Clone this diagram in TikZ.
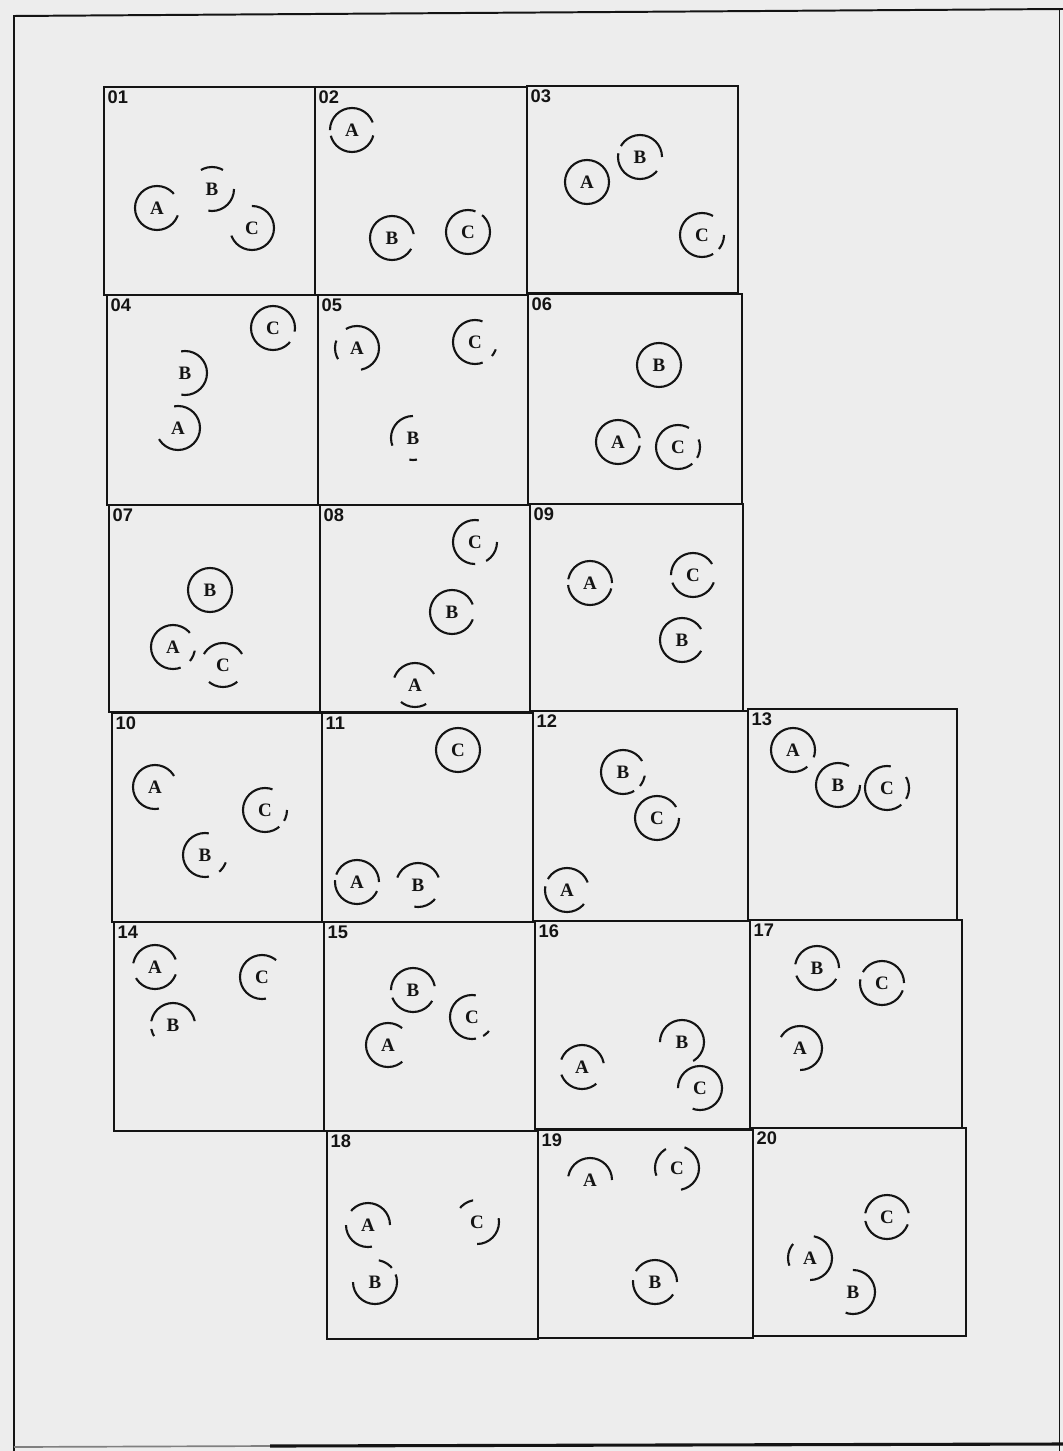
\documentclass[tikz,border=0pt]{standalone}
\usepackage{fontspec}
\setmainfont{Liberation Serif}
\setsansfont{Liberation Sans}
\usepackage{tikz}
\usetikzlibrary{positioning}
\definecolor{paper}{HTML}{EDEDED}
\definecolor{ink}{HTML}{141414}

\tikzset{
  % arcs={start angle}{on}{off}{on} in degrees, rest of the round is off
  arcs/.code n args={4}{%
    \pgfmathsetmacro\onA{#2*0.27314}%
    \pgfmathsetmacro\offA{#3*0.27314}%
    \pgfmathsetmacro\onB{#4*0.27314}%
    \pgfmathsetmacro\offB{max(360-#2-#3-#4,0.5)*0.27314}%
    \pgfmathsetmacro\phs{mod(720-#1,360)*0.27314}%
    \tikzset{draw=ink, dash pattern=on \onA pt off \offA pt on \onB pt off \offB pt, dash phase=\phs pt}},
}

\begin{document}
\begin{tikzpicture}[
  x=0.025cm, y=-0.025cm,
  ring/.style={circle, minimum size=1.1cm, inner sep=0pt, line width=1.5pt,
               text=ink, font=\bfseries\fontsize{13.5}{13.5}\selectfont},
  full/.style={draw=ink},
  cellbox/.style={draw=ink, line width=1.6pt},
  numlbl/.style={anchor=north west, inner sep=1pt, text=ink,
                 font=\sffamily\bfseries\fontsize{13}{13}\selectfont},
  frame/.style={draw=ink, line width=1.4pt}
]
\useasboundingbox (0,0) rectangle (1063,1451);
\fill[paper] (0,0) rectangle (1063,1451);

% page frame
\draw[frame] (14,1451) -- (14,16) -- (1063,9);
\draw[ink, line width=0.6pt] (1059,10) -- (1059,1451);
\draw[gray, line width=1.2pt] (14,1447) -- (270,1446);
\draw[ink, line width=2.2pt] (270,1446) -- (1063,1444);

% cells
\draw[cellbox] (104,87) rectangle (315,295);
\draw[cellbox] (315,87) rectangle (527,295);
\draw[cellbox] (527,86) rectangle (738,293);
\draw[cellbox] (107,295) rectangle (318,505);
\draw[cellbox] (318,295) rectangle (528,505);
\draw[cellbox] (528,294) rectangle (742,504);
\draw[cellbox] (109,505) rectangle (320,712);
\draw[cellbox] (320,505) rectangle (530,712);
\draw[cellbox] (530,504) rectangle (743,711);
\draw[cellbox] (112,713) rectangle (322,922);
\draw[cellbox] (322,713) rectangle (533,922);
\draw[cellbox] (533,711) rectangle (748,921);
\draw[cellbox] (748,709) rectangle (957,920);
\draw[cellbox] (114,922) rectangle (324,1131);
\draw[cellbox] (324,922) rectangle (535,1131);
\draw[cellbox] (535,921) rectangle (750,1129);
\draw[cellbox] (750,920) rectangle (962,1128);
\draw[cellbox] (327,1131) rectangle (538,1339);
\draw[cellbox] (538,1130) rectangle (753,1338);
\draw[cellbox] (753,1128) rectangle (966,1336);

% cell numbers
\node[numlbl] (n01) at (106,89) {01};
\node[numlbl] (n02) at (317,89) {02};
\node[numlbl] (n03) at (529,88) {03};
\node[numlbl] (n04) at (109,297) {04};
\node[numlbl] (n05) at (320,297) {05};
\node[numlbl] (n06) at (530,296) {06};
\node[numlbl] (n07) at (111,507) {07};
\node[numlbl] (n08) at (322,507) {08};
\node[numlbl] (n09) at (532,506) {09};
\node[numlbl] (n10) at (114,715) {10};
\node[numlbl] (n11) at (324,715) {11};
\node[numlbl] (n12) at (535,713) {12};
\node[numlbl] (n13) at (750,711) {13};
\node[numlbl] (n14) at (116,924) {14};
\node[numlbl] (n15) at (326,924) {15};
\node[numlbl] (n16) at (537,923) {16};
\node[numlbl] (n17) at (752,922) {17};
\node[numlbl] (n18) at (329,1133) {18};
\node[numlbl] (n19) at (540,1132) {19};
\node[numlbl] (n20) at (755,1130) {20};

% 01-03
\node[ring, arcs={40}{300}{0}{0}]    (c01a) at (157,208) {A};
\node[ring, arcs={60}{60}{140}{100}] (c01b) at (212,189) {B};
\node[ring, arcs={200}{250}{0}{0}]   (c01c) at (252,228) {C};
\node[ring, arcs={20}{160}{15}{150}] (c02a) at (352,130) {A};
\node[ring, arcs={10}{320}{0}{0}]    (c02b) at (392,238) {B};
\node[ring, arcs={70}{340}{0}{0}]    (c02c) at (468,232) {C};
\node[ring, full]                    (c03a) at (587,182) {A};
\node[ring, arcs={0}{150}{20}{150}]  (c03b) at (640,157) {B};
\node[ring, arcs={60}{240}{20}{40}]  (c03c) at (702,235) {C};
% 04-06
\node[ring, arcs={210}{250}{0}{0}]   (c04a) at (178,428) {A};
\node[ring, arcs={260}{200}{0}{0}]   (c04b) at (185,373) {B};
\node[ring, arcs={350}{330}{0}{0}]   (c04c) at (273,328) {C};
\node[ring, arcs={280}{200}{40}{50}] (c05a) at (357,348) {A};
\node[ring, arcs={90}{110}{60}{20}]  (c05b) at (413,438) {B};
\node[ring, arcs={70}{220}{30}{20}]  (c05c) at (475,342) {C};
\node[ring, arcs={10}{340}{0}{0}]    (c06a) at (618,442) {A};
\node[ring, full]                    (c06b) at (659,365) {B};
\node[ring, arcs={60}{250}{20}{50}]  (c06c) at (678,447) {C};
% 07-09
\node[ring, arcs={40}{250}{30}{30}]  (c07a) at (173,647) {A};
\node[ring, full]                    (c07b) at (210,590) {B};
\node[ring, arcs={30}{120}{80}{80}]  (c07c) at (223,665) {C};
\node[ring, arcs={30}{130}{70}{70}]  (c08a) at (415,685) {A};
\node[ring, arcs={20}{320}{0}{0}]    (c08b) at (452,612) {B};
\node[ring, arcs={80}{190}{30}{60}]  (c08c) at (475,542) {C};
\node[ring, arcs={0}{170}{15}{160}]  (c09a) at (590,583) {A};
\node[ring, arcs={30}{300}{0}{0}]    (c09b) at (682,640) {B};
\node[ring, arcs={30}{150}{20}{140}] (c09c) at (693,575) {C};
% 10-13
\node[ring, arcs={30}{250}{0}{0}]    (c10a) at (155,787) {A};
\node[ring, arcs={80}{200}{30}{30}]  (c10b) at (205,855) {B};
\node[ring, arcs={70}{240}{20}{30}]  (c10c) at (265,810) {C};
\node[ring, arcs={0}{160}{15}{160}]  (c11a) at (357,882) {A};
\node[ring, arcs={20}{140}{100}{60}] (c11b) at (418,885) {B};
\node[ring, full]                    (c11c) at (458,750) {C};
\node[ring, arcs={20}{130}{20}{150}] (c12a) at (567,890) {A};
\node[ring, arcs={30}{270}{20}{30}]  (c12b) at (623,772) {B};
\node[ring, arcs={30}{330}{0}{0}]    (c12c) at (657,818) {C};
\node[ring, arcs={340}{330}{0}{0}]   (c13a) at (793,750) {A};
\node[ring, arcs={60}{300}{0}{0}]    (c13b) at (838,785) {B};
\node[ring, arcs={80}{230}{20}{60}]  (c13c) at (887,788) {C};
% 14-17
\node[ring, arcs={20}{150}{40}{130}] (c14a) at (155,967) {A};
\node[ring, arcs={10}{160}{20}{20}]  (c14b) at (173,1025) {B};
\node[ring, arcs={50}{230}{0}{0}]    (c14c) at (262,977) {C};
\node[ring, arcs={50}{260}{0}{0}]    (c15a) at (388,1045) {A};
\node[ring, arcs={10}{170}{20}{130}] (c15b) at (413,990) {B};
\node[ring, arcs={80}{200}{20}{20}]  (c15c) at (472,1017) {C};
\node[ring, arcs={10}{150}{40}{110}] (c16a) at (582,1067) {A};
\node[ring, arcs={300}{240}{0}{0}]   (c16b) at (682,1042) {B};
\node[ring, arcs={250}{290}{0}{0}]   (c16c) at (700,1088) {C};
\node[ring, arcs={270}{240}{0}{0}]   (c17a) at (800,1048) {A};
\node[ring, arcs={0}{170}{30}{130}]  (c17b) at (817,968) {B};
\node[ring, arcs={0}{150}{20}{170}]  (c17c) at (882,983) {C};
% 18-20
\node[ring, arcs={0}{140}{40}{100}]  (c18a) at (368,1225) {A};
\node[ring, arcs={180}{200}{20}{40}] (c18b) at (375,1282) {B};
\node[ring, arcs={270}{100}{90}{40}] (c18c) at (477,1222) {C};
\node[ring, arcs={0}{170}{0}{0}]     (c19a) at (590,1180) {A};
\node[ring, arcs={0}{150}{25}{150}]  (c19b) at (655,1282) {B};
\node[ring, arcs={280}{150}{50}{80}] (c19c) at (677,1168) {C};
\node[ring, arcs={270}{170}{60}{60}] (c20a) at (810,1258) {A};
\node[ring, arcs={250}{200}{0}{0}]   (c20b) at (853,1292) {B};
\node[ring, arcs={10}{160}{20}{150}] (c20c) at (887,1217) {C};
\end{tikzpicture}
\end{document}
